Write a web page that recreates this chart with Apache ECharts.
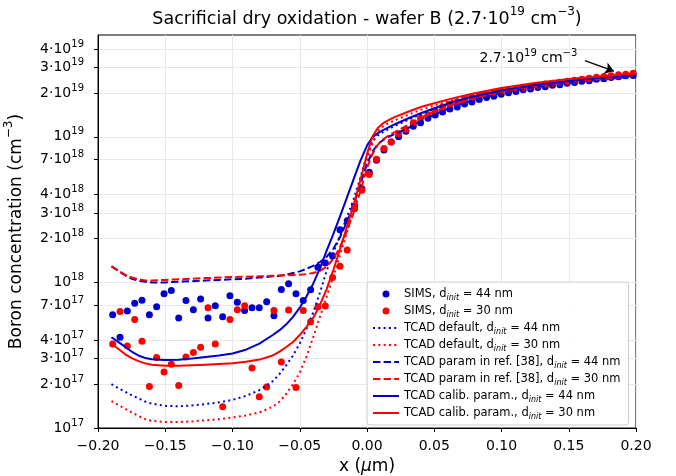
<!DOCTYPE html>
<html>
<head>
<meta charset="utf-8">
<script src="https://cdn.jsdelivr.net/npm/echarts@6/dist/echarts.min.js"></script>
<style>
html, body { margin: 0; padding: 0; background: #fff; }
#chart { width: 676px; height: 476px; }
</style>
</head>
<body>
<div id="chart"></div>
<script>
var FONT = 'DejaVu Sans';
var BLUE = '#0000cc';
var RED = '#ff0000';

// SIMS depth points (um)
var simsX = [-0.1891, -0.1836, -0.1782, -0.1727, -0.1673, -0.1618, -0.1564, -0.1509, -0.1455, -0.14,
    -0.1346, -0.1291, -0.1237, -0.1182, -0.1128, -0.1073, -0.1019, -0.0964, -0.091, -0.0855,
    -0.0801, -0.0746, -0.0692, -0.0637, -0.0583, -0.0528, -0.0474, -0.0419, -0.0365, -0.031,
    -0.0256, -0.0201, -0.0147, -0.0092, -0.0038, 0.0017, 0.0071, 0.0126, 0.018, 0.0235,
    0.0289, 0.0344, 0.0398, 0.0453, 0.0507, 0.0562, 0.0616, 0.0671, 0.0725, 0.078,
    0.0834, 0.0889, 0.0943, 0.0998, 0.1052, 0.1107, 0.1161, 0.1216, 0.127, 0.1325,
    0.1379, 0.1434, 0.1488, 0.1543, 0.1597, 0.1652, 0.1706, 0.1761, 0.1815, 0.187,
    0.1924, 0.1979];
var simsBlue = [6.0e17, 4.2e17, 6.35e17, 7.2e17, 7.55e17, 6.0e17, 6.8e17, 8.35e17, 8.8e17, 5.7e17,
    7.5e17, 6.5e17, 7.7e17, 5.7e17, 6.9e17, 5.8e17, 8.1e17, 7.3e17, 6.4e17, 6.7e17,
    6.7e17, 7.35e17, 5.9e17, 8.95e17, 9.8e17, 8.35e17, 7.5e17, 8.9e17, 1.27e18, 1.36e18,
    1.52e18, 2.3e18, 2.65e18, 3.35e18, 4.4e18, 5.7e18, 6.9e18, 8.1e18, 9.2e18, 1.0e19,
    1.09e19, 1.18e19, 1.25e19, 1.34e19, 1.41e19, 1.48e19, 1.55e19, 1.6e19, 1.68e19, 1.73e19,
    1.8e19, 1.86e19, 1.9e19, 1.96e19, 2.01e19, 2.05e19, 2.1e19, 2.13e19, 2.18e19, 2.21e19,
    2.26e19, 2.28e19, 2.33e19, 2.36e19, 2.41e19, 2.43e19, 2.48e19, 2.5e19, 2.55e19, 2.58e19,
    2.63e19, 2.64e19];
var simsRed = [3.77e17, 6.3e17, 3.65e17, 5.55e17, 3.95e17, 1.93e17, 3.05e17, 2.42e17, 2.74e17, 1.96e17,
    3.07e17, 3.3e17, 3.58e17, 6.7e17, 3.77e17, 1.4e17, 5.57e17, 6.5e17, 6.9e17, 2.58e17,
    1.64e17, 1.91e17, 6.4e17, 2.84e17, 6.45e17, 1.9e17, 6.42e17, 5.37e17, 6.8e17, 6.88e17,
    1.08e18, 1.29e18, 1.67e18, 3.2e18, 4.3e18, 5.5e18, 7.0e18, 8.3e18, 9.2e18, 1.05e19,
    1.12e19, 1.25e19, 1.34e19, 1.41e19, 1.51e19, 1.6e19, 1.67e19, 1.74e19, 1.81e19, 1.87e19,
    1.91e19, 1.97e19, 2.02e19, 2.06e19, 2.1e19, 2.15e19, 2.19e19, 2.22e19, 2.26e19, 2.3e19,
    2.33e19, 2.37e19, 2.41e19, 2.44e19, 2.48e19, 2.52e19, 2.56e19, 2.59e19, 2.63e19, 2.67e19,
    2.69e19, 2.73e19];

// TCAD profiles (um)
var tcadX = [-0.19, -0.185, -0.18, -0.175, -0.17, -0.165, -0.16, -0.15, -0.14, -0.13,
    -0.12, -0.11, -0.10, -0.09, -0.08, -0.07, -0.065, -0.06, -0.055, -0.05,
    -0.045, -0.04, -0.035, -0.03, -0.025, -0.02, -0.015, -0.01, -0.005, 0,
    0.004, 0.008, 0.012, 0.016, 0.02, 0.03, 0.04, 0.05, 0.065, 0.08,
    0.1, 0.125, 0.15, 0.175, 0.2];
var defaultBlue = [2.0e17, 1.88e17, 1.78e17, 1.68e17, 1.6e17, 1.52e17, 1.47e17, 1.42e17, 1.41e17, 1.43e17,
    1.46e17, 1.5e17, 1.56e17, 1.66e17, 1.82e17, 2.1e17, 2.35e17, 2.7e17, 3.15e17, 3.8e17,
    4.8e17, 6.2e17, 8.5e17, 1.2e18, 1.6e18, 2.1e18, 2.8e18, 3.7e18, 5.2e18, 7.5e18,
    9.3e18, 1.02e19, 1.08e19, 1.13e19, 1.18e19, 1.3e19, 1.43e19, 1.55e19, 1.73e19, 1.88e19,
    2.06e19, 2.26e19, 2.41e19, 2.53e19, 2.64e19];
var defaultRed = [1.53e17, 1.44e17, 1.36e17, 1.28e17, 1.21e17, 1.15e17, 1.12e17, 1.1e17, 1.1e17, 1.11e17,
    1.13e17, 1.15e17, 1.18e17, 1.22e17, 1.28e17, 1.4e17, 1.52e17, 1.72e17, 2.0e17, 2.4e17,
    3.1e17, 4.2e17, 5.8e17, 8.0e17, 1.1e18, 1.55e18, 2.2e18, 3.1e18, 4.6e18, 7.0e18,
    9.0e18, 1.1e19, 1.18e19, 1.24e19, 1.29e19, 1.41e19, 1.53e19, 1.64e19, 1.8e19, 1.95e19,
    2.13e19, 2.32e19, 2.46e19, 2.58e19, 2.69e19];
var refBlue = [1.29e18, 1.2e18, 1.12e18, 1.06e18, 1.03e18, 1.01e18, 1.0e18, 1.0e18, 1.01e18, 1.02e18,
    1.03e18, 1.04e18, 1.05e18, 1.06e18, 1.08e18, 1.1e18, 1.11e18, 1.13e18, 1.16e18, 1.19e18,
    1.24e18, 1.3e18, 1.38e18, 1.5e18, 1.7e18, 2.05e18, 2.6e18, 3.4e18, 4.7e18, 6.5e18,
    7.9e18, 8.9e18, 9.5e18, 1.0e19, 1.04e19, 1.14e19, 1.28e19, 1.42e19, 1.62e19, 1.8e19,
    2.0e19, 2.2e19, 2.35e19, 2.48e19, 2.6e19];
var refRed = [1.29e18, 1.21e18, 1.13e18, 1.08e18, 1.05e18, 1.03e18, 1.03e18, 1.04e18, 1.05e18, 1.06e18,
    1.07e18, 1.08e18, 1.09e18, 1.095e18, 1.1e18, 1.11e18, 1.115e18, 1.12e18, 1.125e18, 1.13e18,
    1.14e18, 1.16e18, 1.2e18, 1.28e18, 1.45e18, 1.75e18, 2.25e18, 3.0e18, 4.2e18, 6.1e18,
    7.6e18, 8.8e18, 9.6e18, 1.02e19, 1.07e19, 1.2e19, 1.35e19, 1.49e19, 1.68e19, 1.85e19,
    2.04e19, 2.24e19, 2.38e19, 2.5e19, 2.62e19];
var calibBlue = [4.2e17, 3.9e17, 3.62e17, 3.35e17, 3.15e17, 3.03e17, 2.97e17, 2.93e17, 2.94e17, 3.0e17,
    3.07e17, 3.15e17, 3.25e17, 3.45e17, 3.8e17, 4.35e17, 4.7e17, 5.15e17, 5.8e17, 6.7e17,
    8.0e17, 9.8e17, 1.25e18, 1.65e18, 2.15e18, 2.85e18, 3.8e18, 5.1e18, 6.8e18, 8.7e18,
    9.9e18, 1.06e19, 1.11e19, 1.16e19, 1.21e19, 1.33e19, 1.45e19, 1.57e19, 1.75e19, 1.9e19,
    2.08e19, 2.27e19, 2.42e19, 2.55e19, 2.65e19];
var calibRed = [3.78e17, 3.5e17, 3.22e17, 3.02e17, 2.88e17, 2.78e17, 2.72e17, 2.68e17, 2.68e17, 2.7e17,
    2.72e17, 2.75e17, 2.78e17, 2.85e17, 2.95e17, 3.15e17, 3.35e17, 3.6e17, 3.9e17, 4.35e17,
    4.95e17, 5.7e17, 7.0e17, 9.0e17, 1.22e18, 1.7e18, 2.4e18, 3.4e18, 5.0e18, 7.6e18,
    1.0e19, 1.15e19, 1.24e19, 1.3e19, 1.36e19, 1.48e19, 1.6e19, 1.7e19, 1.85e19, 1.99e19,
    2.16e19, 2.34e19, 2.49e19, 2.6e19, 2.72e19];

var yTickValues = [1e17, 2e17, 3e17, 4e17, 7e17, 1e18, 2e18, 3e18, 4e18, 7e18, 1e19, 2e19, 3e19, 4e19];
var yMin = 1e17;
var yMax = 5e19;

var seriesNames = [
    'SIMS, d_init = 44 nm',
    'SIMS, d_init = 30 nm',
    'TCAD default, d_init = 44 nm',
    'TCAD default, d_init = 30 nm',
    'TCAD param in ref. [38], d_init = 44 nm',
    'TCAD param in ref. [38], d_init = 30 nm',
    'TCAD calib. param., d_init = 44 nm',
    'TCAD calib. param., d_init = 30 nm'
];

// annotation: arrow to the surface value
var annotValue = 2.7e19;
var annotArrow = [[0.162, 3.33e19], [0.1836, 2.82e19]];
var annotTextAt = [0.12, 3.46e19];

function lg(v) {
    return Math.log10(v);
}

function pairs(xs, ys) {
    return xs.map(function(x, i) {
        return [x, lg(ys[i])];
    });
}

function sciLabel(v) {
    var e = Math.floor(v + 1e-9);
    var m = Math.round(Math.pow(10, v - e));
    return (m === 1 ? '{b|10}' : '{b|' + m + '·10}') + '{s|' + e + '}';
}

function lineSeries(name, ys, color, type) {
    return {
        name: name,
        type: 'line',
        data: pairs(tcadX, ys),
        showSymbol: false,
        symbol: 'none',
        lineStyle: { color: color, width: 2, type: type, cap: 'butt', join: 'round' },
        itemStyle: { color: color },
        z: 3
    };
}

function dotSeries(name, ys, color) {
    return {
        name: name,
        type: 'scatter',
        data: pairs(simsX, ys),
        symbol: 'circle',
        symbolSize: 7,
        itemStyle: { color: color, opacity: 1 },
        z: 2
    };
}

var yTickLogs = yTickValues.map(lg);
var dotted = [2, 3.3];
var dashed = [7.4, 3.2];

var legendData = seriesNames.map(function(n, i) {
    // line entries: hide the marker drawn in the middle of the icon
    return i < 2 ? { name: n } : { name: n, itemStyle: { opacity: 0, borderWidth: 0 } };
});

var chart = echarts.init(document.getElementById('chart'));
chart.setOption({
    animation: false,
    backgroundColor: '#fff',
    title: {
        text: 'Sacrificial dry oxidation - wafer B (2.7·10{s|19} cm{s|−3})',
        left: 367,
        top: 6,
        padding: 0,
        textAlign: 'center',
        textStyle: {
            fontFamily: FONT, fontSize: 17.5, fontWeight: 'normal', color: '#000', lineHeight: 26,
            rich: {
                s: { fontFamily: FONT, fontSize: 12, verticalAlign: 'top', lineHeight: 12, color: '#000' }
            }
        }
    },
    grid: {
        left: 98, right: 40, top: 35, bottom: 48,
        outerBoundsMode: 'none',
        containLabel: false,
        show: true, borderColor: '#000', borderWidth: 1, backgroundColor: 'transparent'
    },
    legend: {
        orient: 'vertical',
        left: 367,
        top: 282,
        data: legendData,
        backgroundColor: 'rgba(255,255,255,0.9)',
        borderColor: '#cccccc',
        borderWidth: 1,
        borderRadius: 3,
        padding: [4, 8, 4, 5],
        itemGap: 1,
        itemWidth: 26,
        itemHeight: 7,
        textStyle: {
            fontFamily: FONT, fontSize: 11.5, color: '#000', lineHeight: 16,
            rich: {
                sub: { fontFamily: FONT, fontSize: 8, fontStyle: 'italic', verticalAlign: 'bottom', lineHeight: 8, color: '#000' }
            }
        },
        formatter: function(n) {
            var p = n.split('_init');
            return p[0] + '{sub|init}' + p[1];
        }
    },
    xAxis: {
        type: 'value',
        min: -0.2,
        max: 0.2,
        interval: 0.05,
        name: 'x ({i|µ}m)',
        nameLocation: 'middle',
        nameGap: 28,
        nameTextStyle: {
            fontFamily: FONT, fontSize: 17, color: '#000',
            rich: { i: { fontFamily: FONT, fontSize: 17, fontStyle: 'italic', color: '#000' } }
        },
        axisLine: { show: true, onZero: false, lineStyle: { color: '#000', width: 1 } },
        axisTick: { show: true, length: 4, lineStyle: { color: '#000' } },
        axisLabel: {
            fontFamily: FONT, fontSize: 14, color: '#000', margin: 11,
            formatter: function(v) {
                return v.toFixed(2).replace('-', '−');
            }
        },
        splitLine: { show: true, lineStyle: { color: '#e8e8e8', width: 1 } }
    },
    yAxis: {
        type: 'value',
        min: lg(yMin),
        max: lg(yMax),
        name: 'Boron concentration (cm{s|−3})',
        nameLocation: 'middle',
        nameGap: 64,
        nameRotate: 90,
        nameTextStyle: {
            fontFamily: FONT, fontSize: 17, color: '#000', lineHeight: 26,
            rich: { s: { fontFamily: FONT, fontSize: 12, verticalAlign: 'top', lineHeight: 12, color: '#000' } }
        },
        axisLine: { show: true, onZero: false, lineStyle: { color: '#000', width: 1 } },
        axisTick: { show: true, length: 4, customValues: yTickLogs, lineStyle: { color: '#000' } },
        axisLabel: {
            customValues: yTickLogs,
            margin: 14,
            formatter: sciLabel,
            rich: {
                b: { fontFamily: FONT, fontSize: 14, color: '#000', lineHeight: 20 },
                s: { fontFamily: FONT, fontSize: 10, color: '#000', verticalAlign: 'top', lineHeight: 9 }
            }
        },
        splitLine: { show: true, lineStyle: { color: '#e8e8e8', width: 1 } }
    },
    series: [
        dotSeries(seriesNames[0], simsBlue, BLUE),
        dotSeries(seriesNames[1], simsRed, RED),
        lineSeries(seriesNames[2], defaultBlue, BLUE, dotted),
        lineSeries(seriesNames[3], defaultRed, RED, dotted),
        lineSeries(seriesNames[4], refBlue, BLUE, dashed),
        lineSeries(seriesNames[5], refRed, RED, dashed),
        lineSeries(seriesNames[6], calibBlue, BLUE, 'solid'),
        lineSeries(seriesNames[7], calibRed, RED, 'solid'),
        {
            name: 'annotation',
            type: 'line',
            data: [],
            markLine: {
                silent: true,
                animation: false,
                symbol: ['none', 'arrow'],
                symbolSize: 9,
                lineStyle: { color: '#000', width: 1.3, type: 'solid' },
                label: { show: false },
                data: [[
                    { coord: [annotArrow[0][0], lg(annotArrow[0][1])] },
                    { coord: [annotArrow[1][0], lg(annotArrow[1][1])] }
                ]]
            },
            markPoint: {
                silent: true,
                symbol: 'circle',
                symbolSize: 0,
                label: {
                    show: true,
                    position: 'inside',
                    formatter: '{b|2.7·10}{s|19}{b| cm}{s|−3}',
                    rich: {
                        b: { fontFamily: FONT, fontSize: 14, color: '#000', lineHeight: 20 },
                        s: { fontFamily: FONT, fontSize: 10, color: '#000', verticalAlign: 'top', lineHeight: 9 }
                    }
                },
                data: [{ coord: [annotTextAt[0], lg(annotTextAt[1])], value: annotValue }]
            }
        }
    ]
});
</script>
</body>
</html>
